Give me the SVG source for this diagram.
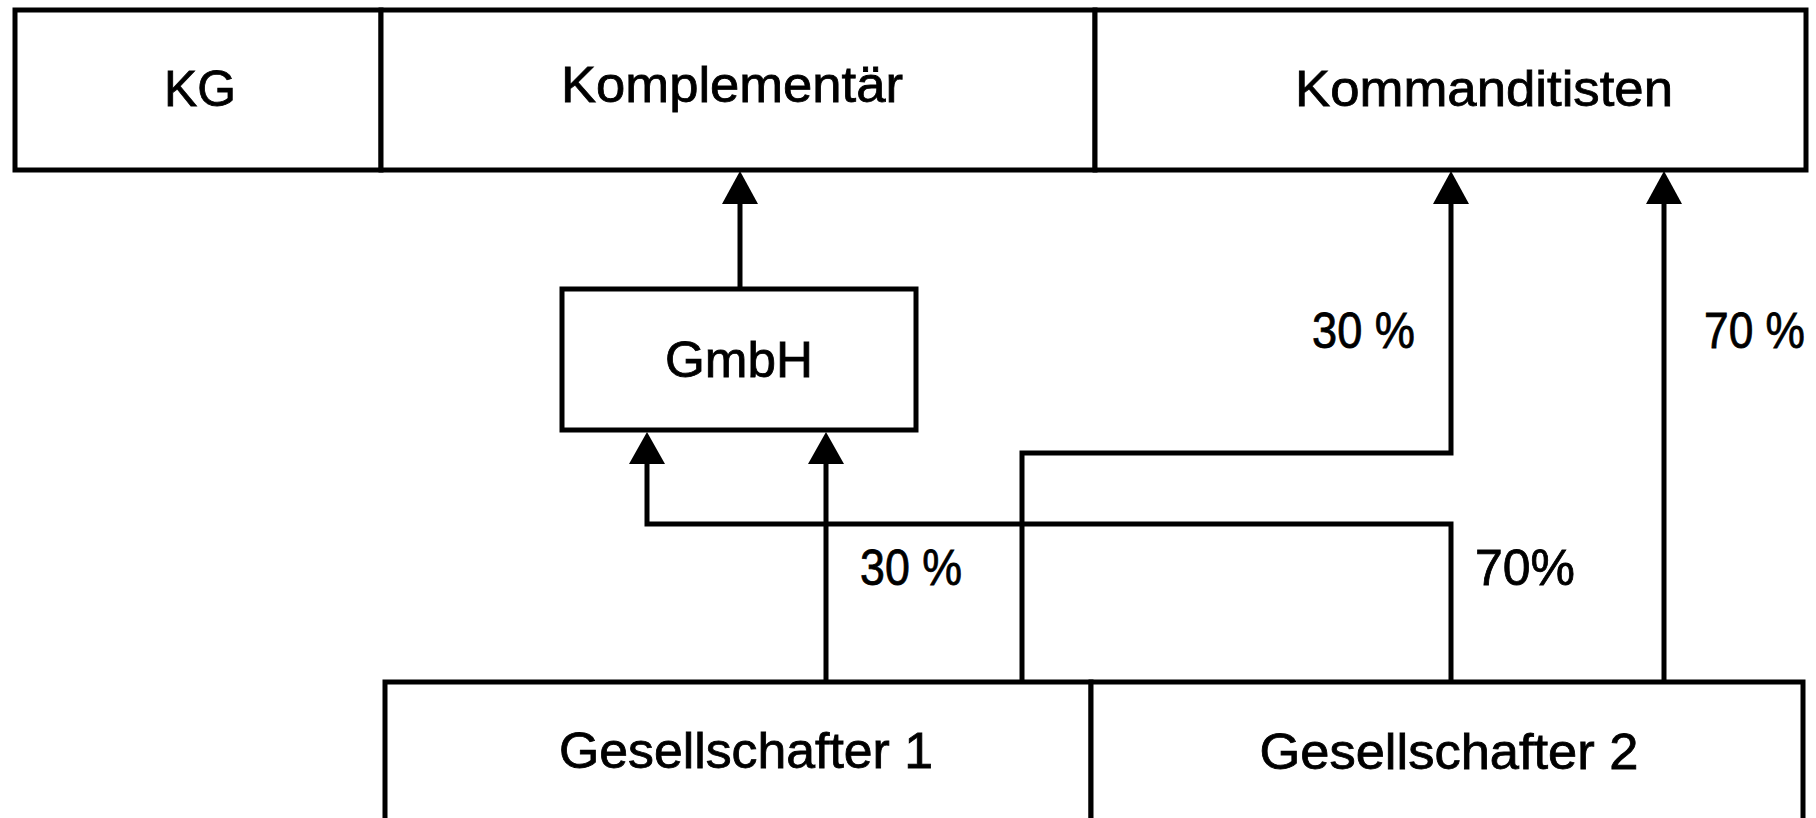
<svg xmlns="http://www.w3.org/2000/svg" width="1816" height="818" viewBox="0 0 1816 818">
<style>
.box{fill:#fff;stroke:#000;stroke-width:5}
.t{font-family:"Liberation Sans",Arial,sans-serif;font-size:50px;fill:#000;stroke:#000;stroke-width:0.8;text-anchor:middle}
.l{font-family:"Liberation Sans",Arial,sans-serif;font-size:50px;fill:#000;stroke:#000;stroke-width:0.8}
.c{fill:none;stroke:#000;stroke-width:5;stroke-linejoin:miter}
</style>
<rect width="1816" height="818" fill="#fff"/>
<g id="kg"><rect class="box" x="15" y="10" width="366" height="160"/><text class="t" x="200" y="106" textLength="72" lengthAdjust="spacingAndGlyphs">KG</text></g>
<g id="komplementaer"><rect class="box" x="381" y="10" width="714" height="160"/><text class="t" x="732" y="102" textLength="342" lengthAdjust="spacingAndGlyphs">Komplementär</text></g>
<g id="kommanditisten"><rect class="box" x="1095" y="10" width="711" height="160"/><text class="t" x="1484" y="106" textLength="378" lengthAdjust="spacingAndGlyphs">Kommanditisten</text></g>
<g id="gmbh"><rect class="box" x="562" y="289" width="354" height="141"/><text class="t" x="739" y="377" textLength="148" lengthAdjust="spacingAndGlyphs">GmbH</text></g>
<g id="gesellschafter1"><rect class="box" x="385" y="682" width="706" height="140"/><text class="t" x="746" y="768" textLength="374" lengthAdjust="spacingAndGlyphs">Gesellschafter 1</text></g>
<g id="gesellschafter2"><rect class="box" x="1091" y="682" width="712" height="140"/><text class="t" x="1449" y="769" textLength="379" lengthAdjust="spacingAndGlyphs">Gesellschafter 2</text></g>
<g id="connectors">
<path class="c" d="M740 289 V203"/>
<path d="M740 171 L758 204 L722 204 Z"/>
<path class="c" d="M826 682 V463"/>
<path d="M826 432 L844 464 L808 464 Z"/>
<path class="c" d="M1451 682 V524 H647 V463"/>
<path d="M647 432 L665 464 L629 464 Z"/>
<path class="c" d="M1022 682 V453 H1451 V203"/>
<path d="M1451 171 L1469 204 L1433 204 Z"/>
<path class="c" d="M1664 682 V203"/>
<path d="M1664 171 L1682 204 L1646 204 Z"/>
</g>
<g id="labels">
<text class="l" x="860" y="585" textLength="102" lengthAdjust="spacingAndGlyphs">30 %</text>
<text class="l" x="1475" y="585" textLength="100" lengthAdjust="spacingAndGlyphs">70%</text>
<text class="l" x="1312" y="348" textLength="103" lengthAdjust="spacingAndGlyphs">30 %</text>
<text class="l" x="1704" y="348" textLength="101" lengthAdjust="spacingAndGlyphs">70 %</text>
</g>
</svg>
